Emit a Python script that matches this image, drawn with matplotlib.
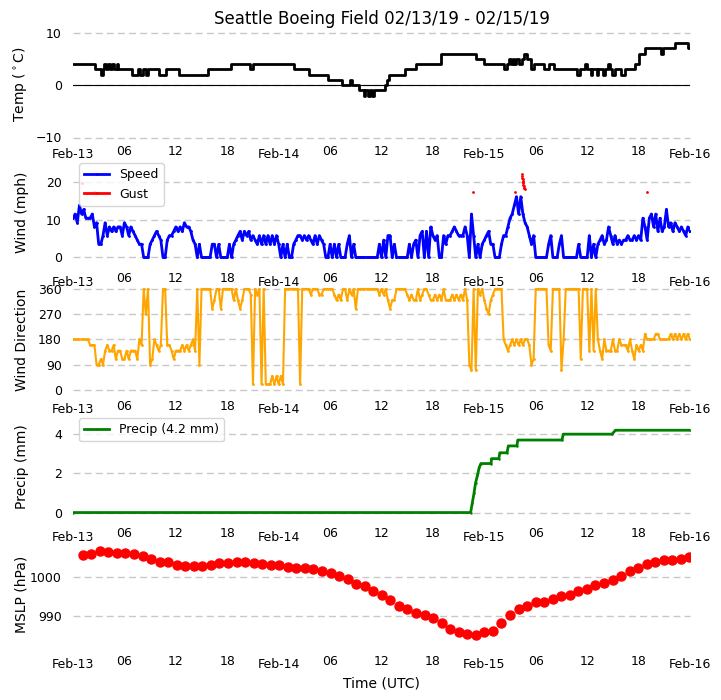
import matplotlib
matplotlib.use("Agg")
import matplotlib.pyplot as plt
import matplotlib.dates as mdates
import numpy as np
import pandas as pd

# temperature: step changes (hour since start, deg C)
temp_hours = [0, 2.6, 3.3, 3.5, 3.6, 3.8, 4.1, 4.3, 4.6, 4.8, 5.1, 5.3, 6.9, 7.6, 7.8, 8.2, 8.5, 8.7, 10.0, 10.9, 11.2, 12.4,
              15.7, 18.4, 20.6, 20.8, 21.0, 25.8, 27.5, 29.7, 31.4, 32.3, 32.6, 33.4, 33.9, 34.1, 34.4, 34.6, 34.9, 35.1,
              35.7, 36.4, 36.7, 36.9, 38.8, 40.0, 43.0, 47.0, 48.0, 50.3, 50.7, 50.9, 51.1, 51.3, 51.5, 51.7, 52.1, 52.4,
              52.6, 53.0, 53.4, 53.8, 55.0, 55.6, 56.1, 58.8, 59.2, 59.8, 60.0, 60.4, 60.6, 61.1, 61.3, 61.9, 62.1, 62.4,
              62.7, 62.9, 63.3, 64.0, 64.4, 64.6, 65.6, 66.0, 66.2, 66.8, 68.6, 68.9, 70.3, 71.8, 72]
temp = [4, 3, 2, 3, 4, 3, 4, 3, 4, 3, 4, 3, 2, 3, 2, 3, 2, 3, 2, 3, 3, 2,
        3, 4, 3, 3, 4, 3, 2, 1, 0, 1, 0, -1, -2, -1, -2, -1, -2, -1,
        -1, 0, 1, 2, 3, 4, 6, 5, 4, 3, 4, 5, 4, 5, 4, 5, 4, 5,
        6, 5, 3, 4, 3, 4, 3, 2, 3, 4, 3, 2, 3, 2, 3, 2, 3, 4,
        3, 2, 3, 2, 3, 3, 4, 6, 6, 7, 6, 7, 8, 7, 7]

# wind speed, one value every 15 min
wind = [10.4, 11.5, 9.2, 13.8, 11.5, 12.7, 10.4, 10.4, 10.4, 11.5, 8.1, 9.2, 3.5, 3.5, 5.8, 9.2, 5.8, 8.1, 6.9, 8.1,
        6.9, 8.1, 8.1, 5.8, 9.2, 8.1, 5.8, 8.1, 6.9, 5.8, 4.6, 3.5, 3.5, 0, 0, 0, 3.5, 4.6, 5.8, 6.9,
        5.8, 4.6, 0, 0, 4.6, 5.8, 5.8, 6.9, 8.1, 6.9, 8.1, 6.9, 9.2, 8.1, 8.1, 6.9, 4.6, 3.5, 0, 3.5,
        0, 0, 0, 0, 0, 3.5, 3.5, 0, 3.5, 0, 0, 0, 0, 3.5, 0, 3.5, 4.6, 5.8, 6.9, 4.6,
        6.9, 5.8, 6.9, 4.6, 5.8, 4.6, 3.5, 5.8, 3.5, 5.8, 3.5, 5.8, 3.5, 5.8, 3.5, 5.8, 3.5, 0, 3.5, 0,
        3.5, 0, 0, 3.5, 4.6, 5.8, 5.8, 4.6, 5.8, 4.6, 5.8, 4.6, 3.5, 5.8, 3.5, 5.8, 4.6, 3.5, 0, 0,
        3.5, 0, 3.5, 0, 3.5, 0, 0, 0, 3.5, 5.8, 0, 3.5, 0, 0, 0, 0, 0, 0, 0, 0, 0, 0, 0, 3.5,
        0, 4.6, 0, 5.8, 5.8, 0, 3.5, 0, 0, 0, 0, 0, 0, 3.5, 0, 3.5, 4.6, 0, 5.8, 6.9,
        0, 6.9, 0, 8.1, 5.8, 4.6, 5.8, 0, 0, 5.8, 3.5, 5.8, 5.8, 6.9, 8.1, 6.9, 5.8, 5.8, 5.8, 8.1,
        5.8, 0, 11.5, 5.8, 0, 3.5, 0, 3.5, 4.6, 5.8, 6.9, 3.5, 3.5, 0, 0, 0, 3.5, 5.8, 5.8, 8.1,
        10.4, 11.5, 13.8, 16.1, 11.5, 16.1, 11.5, 9.2, 8.1, 5.8, 3.5, 5.8, 0, 0, 0, 0, 0, 0, 3.5, 5.8,
        0, 0, 0, 3.5, 5.8, 0, 0, 0, 0, 0, 0, 0, 3.5, 0, 0, 0, 0, 5.8, 0, 3.5,
        0, 3.5, 4.6, 5.8, 3.5, 4.6, 8.1, 5.8, 3.5, 5.8, 3.5, 4.6, 3.5, 4.6, 4.6, 5.8, 4.6, 4.6, 5.8, 4.6,
        5.8, 4.6, 10.4, 8.1, 4.6, 10.4, 11.5, 8.1, 11.5, 6.9, 10.4, 6.9, 8.1, 12.7, 8.1, 9.2, 6.9, 9.2, 8.1, 6.9,
        8.1, 6.9, 5.8, 8.1, 6.9]

gust_hours = [1.1, 2.4, 46.66, 51.55, 52.4, 52.42, 52.44, 52.46, 52.48, 52.5, 52.52, 52.55, 52.58, 52.62, 52.68, 52.72, 66.93]
gust = [19.6, 17.3, 17.3, 17.3, 22.1, 21.6, 21.0, 20.7, 20.3, 19.9, 19.6, 19.2, 18.8, 18.4, 18.4, 18.2, 17.3]

# wind direction, one value every 15 min
direction = [180, 180, 180, 180, 180, 180, 180, 180, 160, 160, 160, 90, 90, 110, 90, 140, 160, 140, 140, 160,
             110, 140, 140, 110, 110, 140, 110, 140, 140, 140, 110, 180, 160, 360, 270, 360, 90, 110, 180, 160,
             140, 160, 360, 360, 160, 160, 140, 110, 140, 140, 140, 160, 140, 160, 140, 160, 180, 140, 360, 90,
             360, 360, 360, 360, 360, 290, 320, 360, 360, 290, 360, 360, 360, 360, 360, 320, 360, 320, 290, 320,
             360, 360, 360, 340, 20, 360, 340, 360, 20, 360, 20, 20, 20, 50, 20, 50, 20, 50, 20, 360,
             360, 360, 360, 360, 360, 360, 20, 360, 360, 360, 360, 340, 360, 360, 360, 340, 340, 360, 360, 360,
             360, 360, 340, 320, 340, 320, 360, 360, 320, 360, 340, 360, 290, 360, 360, 360, 360, 360, 360, 360,
             360, 360, 360, 340, 360, 340, 360, 320, 290, 320, 320, 360, 360, 360, 360, 360, 340, 320, 340, 320,
             320, 360, 320, 340, 360, 360, 340, 320, 320, 340, 320, 340, 320, 360, 320, 320, 320, 340, 320, 340,
             320, 340, 320, 360, 320, 90, 70, 360, 70, 360, 340, 360, 320, 290, 270, 320, 340, 360, 360, 360,
             360, 180, 160, 140, 160, 180, 160, 180, 160, 180, 160, 180, 180, 160, 90, 110, 360, 360, 360, 360,
             360, 360, 160, 140, 360, 360, 360, 360, 70, 180, 360, 360, 360, 360, 360, 360, 360, 110, 360, 360,
             360, 140, 360, 140, 360, 180, 140, 110, 180, 140, 140, 140, 180, 140, 140, 180, 160, 160, 160, 140,
             180, 140, 110, 160, 140, 160, 140, 200, 180, 180, 180, 180, 200, 200, 180, 180, 180, 180, 180, 200,
             180, 200, 180, 200, 180, 200, 180, 200, 180]

# accumulated precip, breakpoints
precip_hours = [0, 46.4, 46.6, 46.8, 46.97, 47.2, 47.4, 47.6, 48.8, 48.83, 49.7, 49.8, 50.65, 50.8, 51.8, 51.9, 57.07, 57.2, 62.9, 63.3, 72]
precip = [0, 0, 0.5, 1.0, 1.5, 1.9, 2.3, 2.5, 2.5, 2.75, 2.75, 3.05, 3.05, 3.4, 3.4, 3.7, 3.7, 4.0, 4.0, 4.2, 4.2]

# hourly pressure
mslp = [1005.8, 1005.9, 1006.7, 1006.5, 1006.2, 1006.3, 1006.0, 1005.5, 1004.7, 1004.0, 1003.9, 1003.1, 1002.8, 1002.8,
        1002.9, 1003.2, 1003.6, 1003.6, 1003.9, 1003.9, 1003.6, 1003.4, 1003.2, 1003.2, 1002.6, 1002.3, 1002.3, 1002.1,
        1001.6, 1001.1, 1000.3, 999.5, 998.4, 997.7, 996.5, 995.4, 994.1, 992.8, 991.8, 990.8, 990.3, 989.7, 988.4, 986.9,
        985.9, 985.6, 985.3, 985.9, 986.4, 988.2, 990.3, 991.8, 992.6, 993.6, 993.6, 994.4, 995.2, 995.4, 996.5, 997.0,
        998.0, 998.5, 999.3, 1000.3, 1001.6, 1002.4, 1003.4, 1004.0, 1004.5, 1004.5, 1004.7, 1005.3]

start = pd.Timestamp("2019-02-13 00:00")
end = pd.Timestamp("2019-02-16 00:00")


def to_dates(hours):
    return start + pd.to_timedelta(np.asarray(hours, dtype=float), unit="h")


W, H = 721, 700
fig = plt.figure(figsize=(W / 100, H / 100), dpi=100)

tops = [29.5, 157, 284.5, 412, 539.5]
axes = []
for top in tops:
    ax = fig.add_axes([73 / W, 1 - (top + 108) / H, 617 / W, 108 / H])
    ax.patch.set_visible(False)
    ax.set_xlim(start, end)
    ax.xaxis.set_major_locator(mdates.DayLocator())
    ax.xaxis.set_major_formatter(mdates.DateFormatter("%b-%d"))
    ax.xaxis.set_minor_locator(mdates.HourLocator(byhour=[6, 12, 18]))
    ax.xaxis.set_minor_formatter(mdates.DateFormatter("%H"))
    ax.tick_params(axis="x", which="major", length=0, pad=7.7, labelsize=9)
    ax.tick_params(axis="x", which="minor", length=0, pad=5.2, labelsize=9)
    ax.tick_params(axis="y", length=0, pad=8, labelsize=9)
    ax.grid(axis="y", color="#c8c8c8", linestyle=(0, (5, 3)), linewidth=1)
    ax.set_axisbelow(True)
    for s in ax.spines.values():
        s.set_visible(False)
    axes.append(ax)

ax1, ax2, ax3, ax4, ax5 = axes

ax1.plot(to_dates(temp_hours), temp, color="k", lw=2, drawstyle="steps-post")
ax1.axhline(0, color="k", lw=0.8)
ax1.set_ylim(-10, 10.6)
ax1.set_yticks([-10, 0, 10])
ax1.set_ylabel(r"Temp ($^\circ$C)", fontsize=10)
ax1.set_title("Seattle Boeing Field 02/13/19 - 02/15/19", fontsize=12, pad=4)

wind_hours = np.arange(len(wind)) / 4
ax2.plot(to_dates(wind_hours), wind, color="b", lw=2, marker=".", ms=2, label="Speed")
ax2.plot(to_dates(gust_hours), gust, color="r", lw=0, marker=".", ms=2, label="Gust")
ax2.set_ylim(-2, 26.6)
ax2.set_yticks([0, 10, 20])
ax2.set_ylabel("Wind (mph)", fontsize=10)
leg = ax2.legend(loc="upper left", fontsize=9)
leg.get_lines()[1].set_linewidth(2)

dir_hours = np.arange(len(direction)) / 4
ax3.plot(to_dates(dir_hours), direction, color="orange", lw=1.5, marker=".", ms=2)
ax3.set_ylim(-9, 376)
ax3.set_yticks([0, 90, 180, 270, 360])
ax3.set_ylabel("Wind Direction", fontsize=10)

ax4.plot(to_dates(precip_hours), precip, color="g", lw=2, marker=".", ms=1.5, label="Precip (4.2 mm)")
ax4.set_ylim(-0.38, 5.13)
ax4.set_yticks([0, 2, 4])
ax4.set_ylabel("Precip (mm)", fontsize=10)
ax4.legend(loc="upper left", fontsize=9)

mslp_hours = np.linspace(1.13, 71.94, len(mslp))
ax5.plot(to_dates(mslp_hours), mslp, color="r", lw=0, marker="o", ms=6.5)
ax5.set_ylim(982.05, 1009.7)
ax5.set_yticks([990, 1000])
ax5.set_ylabel("MSLP (hPa)", fontsize=10)
ax5.set_xlabel("Time (UTC)", fontsize=10, labelpad=4)

for ax in axes:
    ax.yaxis.set_label_coords(-0.072, 0.49)
    for line in ax.get_ygridlines():
        line.set_clip_on(False)

fig.savefig("out.png", dpi=100)
